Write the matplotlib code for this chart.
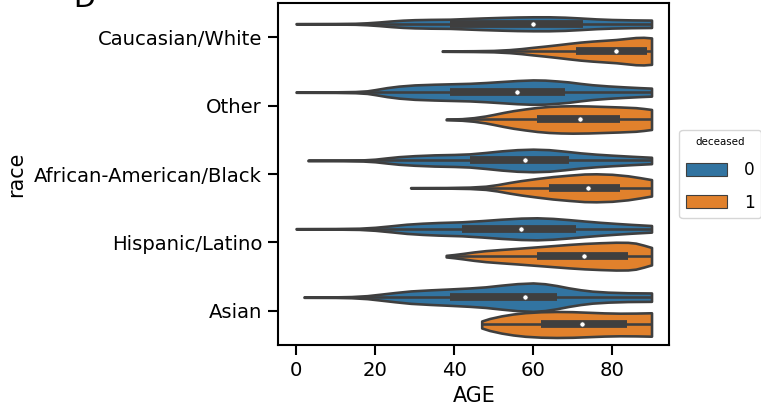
import numpy as np
import matplotlib
matplotlib.use("Agg")
import matplotlib.pyplot as plt
from matplotlib.patches import Patch

#============================================================================
# data
#============================================================================

races = ["Caucasian/White", "Other", "African-American/Black",
         "Hispanic/Latino", "Asian"]
hue_levels = ["0", "1"]

# density outline of each violin: ages and relative half-width
ages_0 = [
    [0, 10, 15, 18, 21, 24, 27, 30, 34, 39, 43, 47, 52, 56, 60, 64, 68, 72, 76, 80, 85, 90],
    [0, 10, 15, 18, 20, 23, 26, 30, 35, 39, 44, 48, 52, 56, 60, 63, 66, 69, 72, 75, 79, 83, 87, 90],
    [3, 12, 17, 20, 23, 26, 30, 35, 40, 44, 48, 52, 56, 60, 64, 68, 72, 76, 80, 85, 90],
    [0, 10, 16, 20, 24, 28, 32, 36, 42, 47, 52, 57, 61, 65, 69, 73, 77, 81, 85, 90],
    [2, 10, 14, 18, 21, 25, 29, 34, 39, 44, 48, 52, 56, 60, 63, 66, 69, 72, 75, 79, 84, 90],
]
dens_0 = [
    [0.2, 0.3, 0.5, 1.0, 1.8, 2.8, 3.6, 4.1, 4.4, 4.6, 5.2, 5.8, 6.4, 6.8, 7.0, 7.0, 6.6, 5.8, 4.9, 4.3, 3.9, 3.7],
    [0.2, 0.3, 0.6, 1.3, 2.5, 4.5, 6.0, 7.2, 7.9, 8.3, 8.8, 9.6, 10.6, 11.6, 12.2, 12.0, 11.2, 10.2, 8.7, 7.4, 6.2, 5.3, 4.5, 4.0],
    [0.2, 0.3, 0.6, 1.3, 2.6, 3.8, 4.8, 5.6, 6.0, 6.6, 8.0, 9.6, 10.8, 11.3, 10.8, 9.3, 7.6, 6.3, 5.3, 4.2, 3.2],
    [0.2, 0.3, 0.6, 1.5, 3.0, 4.6, 5.6, 6.3, 7.0, 8.2, 9.6, 10.7, 11.0, 10.4, 9.2, 7.8, 6.5, 5.4, 4.4, 3.3],
    [0.2, 0.3, 0.6, 1.5, 2.8, 4.6, 6.2, 7.3, 8.2, 9.2, 10.3, 12.0, 13.5, 14.2, 13.4, 11.6, 9.3, 7.4, 6.0, 5.0, 4.4, 4.2],
]
ages_1 = [
    [37, 45, 50, 54, 57, 60, 63, 66, 69, 72, 75, 78, 81, 84, 86, 88, 90],
    [38, 42, 45, 48, 50, 52.5, 55, 58, 61, 64, 67, 70, 74, 78, 82, 86, 88, 90],
    [29, 38, 44, 48, 51, 54, 57, 61, 65, 69, 73, 76, 80, 84, 87, 90],
    [38, 40, 42.4, 45, 48, 52, 56, 61, 65, 69, 73, 77, 81, 84, 86, 88, 90],
    [47, 49, 52, 55, 58, 62, 66, 70, 74, 78, 82, 86, 90],
]
dens_1 = [
    [0.2, 0.4, 0.7, 1.5, 2.5, 3.8, 5.0, 6.3, 7.7, 9.0, 10.0, 10.8, 11.6, 12.8, 13.6, 13.8, 13.2],
    [0.3, 0.8, 1.8, 3.5, 5.0, 7.0, 8.8, 10.5, 12.0, 13.0, 13.5, 13.7, 13.5, 13.0, 12.5, 11.8, 11.0, 10.0],
    [0.2, 0.3, 0.7, 1.6, 3.2, 5.3, 7.2, 9.3, 11.2, 12.6, 13.8, 14.0, 13.5, 12.0, 10.2, 8.2],
    [0.8, 1.6, 2.8, 4.2, 5.5, 6.7, 7.8, 9.3, 10.5, 11.7, 12.7, 13.4, 13.9, 13.8, 13.0, 11.0, 8.7],
    [3.5, 6.0, 8.6, 10.5, 11.8, 12.7, 13.0, 12.8, 12.2, 11.6, 11.3, 11.4, 11.7],
]

# quartiles (q1, median, q3)
q1_0 = [39, 39, 44, 42, 39]
med_0 = [60, 56, 58, 57, 58]
q3_0 = [72.7, 68, 69, 71, 66]
q1_1 = [71, 61, 64, 61, 62]
med_1 = [81, 72, 74, 73, 72.5]
q3_1 = [88.8, 82, 82, 84, 83.7]

#============================================================================
# plot
#============================================================================

blue = "#3274a1"
orange = "#e1812c"
gray = "#3f3f3f"
lw = 1.87
dens_scale = 68.3  # relative half-width units per category step

fig = plt.figure(figsize=(7.61, 4.11), dpi=100)
ax = fig.add_axes([0.3657, 0.1606, 0.5138, 0.8314])

groups = [(ages_0, dens_0, q1_0, med_0, q3_0, blue, -0.2),
          (ages_1, dens_1, q1_1, med_1, q3_1, orange, 0.2)]

for ages, dens, q1, med, q3, color, off in groups:
    for i in range(len(races)):
        a = np.array(ages[i], dtype=float)
        d = np.array(dens[i], dtype=float)
        stats = [dict(coords=a, vals=d, mean=np.mean(a), median=med[i],
                      min=a.min(), max=a.max())]
        res = ax.violin(stats, positions=[i + off], orientation="horizontal",
                        widths=2 * d.max() / dens_scale,
                        showmeans=False, showextrema=False, showmedians=False)
        for body in res["bodies"]:
            body.set_facecolor(color)
            body.set_edgecolor(gray)
            body.set_linewidth(lw)
            body.set_joinstyle("round")
            body.set_alpha(1)
        ax.plot([a.min(), a.max()], [i + off, i + off], color=gray, lw=lw,
                solid_capstyle="butt", zorder=2)
        ax.plot([q1[i], q3[i]], [i + off, i + off], color=gray, lw=lw * 3,
                solid_capstyle="butt", zorder=2)
        ax.scatter([med[i]], [i + off], s=(lw * 2) ** 2, color="white",
                   edgecolor=gray, linewidth=0.5, zorder=3)

ax.set_xlim(-4.5, 94.5)
ax.set_ylim(len(races) - 0.5, -0.5)
ax.set_yticks(range(len(races)))
ax.set_yticklabels(races)
ax.set_xticks([0, 20, 40, 60, 80])
ax.tick_params(labelsize=14.1, length=7.2, width=1.5, pad=4.5)
for sp in ax.spines.values():
    sp.set_linewidth(1.5)
ax.set_xlabel("AGE", fontsize=14.9, labelpad=4)
ax.set_ylabel("race", fontsize=14.9, labelpad=6)

handles = [Patch(facecolor=blue, edgecolor=gray, linewidth=0.8),
           Patch(facecolor=orange, edgecolor=gray, linewidth=0.8)]
ax.legend(handles, hue_levels, title="deceased", loc="center left",
          bbox_to_anchor=(1.0, 0.5), borderaxespad=0.6, fontsize=12.2,
          title_fontsize=7.4, handlelength=2.4, handleheight=0.85,
          labelspacing=0.85, handletextpad=1.0)

fig.text(73 / 761, 1 - 7 / 411, "D", fontsize=20.6, ha="left", va="baseline")

fig.savefig("out.png", dpi=100)
